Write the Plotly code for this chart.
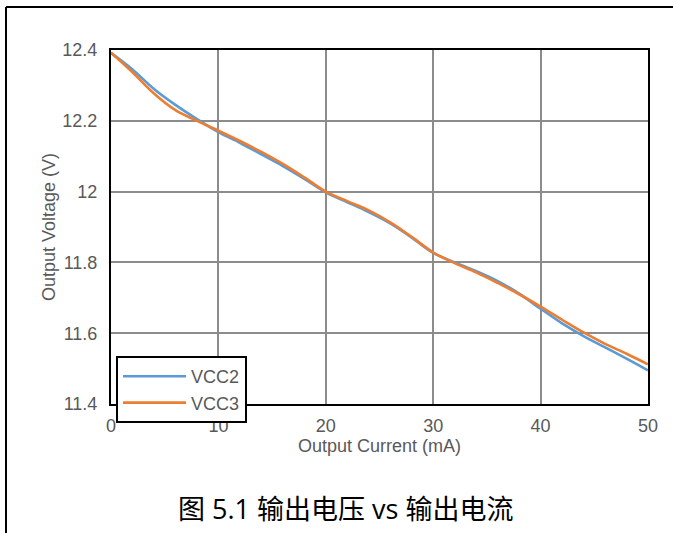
import plotly.graph_objects as go

current_ma = [0, 2, 4, 6, 8, 10, 12, 14, 16, 18, 20, 22, 24, 26, 28, 30,
              32, 34, 36, 38, 40, 42, 44, 46, 48, 50]
vcc2 = [12.392, 12.345, 12.29, 12.245, 12.205, 12.168, 12.138, 12.105, 12.072,
        12.036, 11.998, 11.97, 11.942, 11.91, 11.87, 11.827, 11.8, 11.775,
        11.747, 11.712, 11.669, 11.628, 11.592, 11.56, 11.528, 11.495]
vcc3 = [12.392, 12.337, 12.277, 12.23, 12.2, 12.172, 12.143, 12.112, 12.078,
        12.04, 12.0, 11.973, 11.947, 11.913, 11.872, 11.828, 11.798, 11.772,
        11.742, 11.71, 11.675, 11.638, 11.602, 11.57, 11.542, 11.512]
x_ticks = [0, 10, 20, 30, 40, 50]
y_ticks = [11.4, 11.6, 11.8, 12.0, 12.2, 12.4]
caption = "图 5.1 输出电压 vs 输出电流"

W, H = 673, 533
ml, mr, mt, mb = 111, 25, 50, 129
pw, ph = W - ml - mr, H - mt - mb

def px_x(p):
    return (p - ml) / pw

def px_y(p):
    return (H - mb - p) / ph

fig = go.Figure()
fig.add_trace(go.Scatter(x=current_ma, y=vcc2, name="VCC2", mode="lines",
                         line=dict(color="#5B9BD5", width=2.6, shape="spline")))
fig.add_trace(go.Scatter(x=current_ma, y=vcc3, name="VCC3", mode="lines",
                         line=dict(color="#ED7D31", width=2.6, shape="spline")))

FONT = "Liberation Sans, Arial"
tick_font = dict(family=FONT, size=18, color="#595959")

fig.update_layout(
    width=W, height=H,
    margin=dict(l=ml, r=mr, t=mt, b=mb),
    paper_bgcolor="white", plot_bgcolor="white",
    showlegend=True,
    legend=dict(x=px_x(116), y=px_y(356), xanchor="left", yanchor="top",
                bgcolor="white", bordercolor="black", borderwidth=2,
                font=dict(family=FONT, size=18, color="#595959"),
                tracegroupgap=0, itemwidth=63),
    xaxis=dict(range=[0, 50], tickvals=x_ticks, showgrid=True,
               gridcolor="#8c8c8c", gridwidth=2, zeroline=False,
               showline=True, linecolor="black", linewidth=2, mirror=True,
               ticks="outside", ticklen=4, tickcolor="rgba(0,0,0,0)",
               tickfont=tick_font,
               title=dict(text="Output Current (mA)", standoff=5,
                          font=dict(family=FONT, size=18, color="#595959"))),
    yaxis=dict(range=[11.4, 12.4], tickvals=y_ticks, showgrid=True,
               gridcolor="#8c8c8c", gridwidth=2, zeroline=False,
               showline=True, linecolor="black", linewidth=2, mirror=True,
               ticks="outside", ticklen=8, tickcolor="rgba(0,0,0,0)",
               tickfont=tick_font,
               title=dict(text="Output Voltage (V)", standoff=2,
                          font=dict(family=FONT, size=18, color="#595959"))),
    shapes=[
        dict(type="line", xref="paper", yref="paper",
             x0=px_x(6), x1=px_x(680), y0=px_y(7), y1=px_y(7),
             line=dict(color="black", width=2)),
        dict(type="line", xref="paper", yref="paper",
             x0=px_x(6), x1=px_x(6), y0=px_y(7), y1=px_y(540),
             line=dict(color="black", width=2)),
    ],
    annotations=[
        dict(text=caption, xref="paper", yref="paper",
             x=px_x(345), y=px_y(508), xanchor="center", yanchor="middle",
             showarrow=False,
             font=dict(family="Open Sans, Noto Sans CJK SC", size=27, color="black")),
    ],
)

fig.write_html("out.html", config={"displayModeBar": False},
               post_script="document.body.style.margin='0';document.body.style.overflow='hidden';")
